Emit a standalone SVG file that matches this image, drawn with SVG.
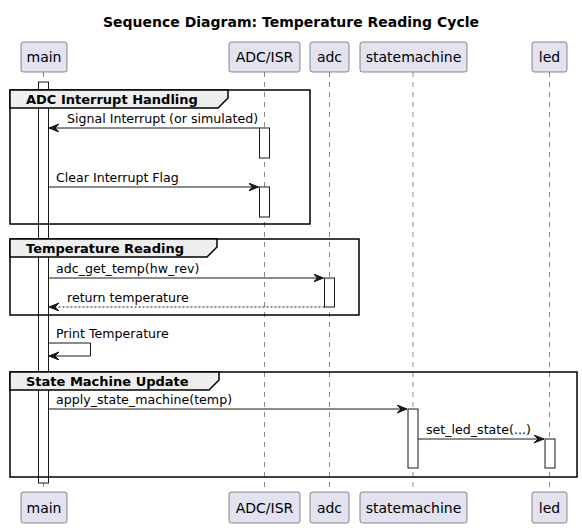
<svg xmlns="http://www.w3.org/2000/svg" width="582" height="528" viewBox="0 0 582 528">
<style>
text{font-family:"DejaVu Sans","Noto Sans",sans-serif;fill:#000}
.title{font-size:14px;font-weight:bold}
.pname{font-size:14px}
.msg{font-size:12.6px}
.gname{font-size:13px;font-weight:bold}
.pbox{fill:#E2E2F0;stroke:#181818;stroke-width:0.5}
.life{stroke:#181818;stroke-width:0.5;stroke-dasharray:5,5;fill:none}
.act{fill:#FFFFFF;stroke:#181818;stroke-width:1}
.frame{fill:none;stroke:#000;stroke-width:1.5}
.tab{fill:#EEEEEE;stroke:#000;stroke-width:1.5}
.arr{stroke:#181818;stroke-width:1;fill:none;marker-end:url(#ah)}
.ret{stroke:#181818;stroke-width:1;fill:none;stroke-dasharray:2,2;marker-end:url(#ah)}
</style>
<defs>
<marker id="ah" markerUnits="userSpaceOnUse" markerWidth="11" markerHeight="9" refX="10" refY="4" orient="auto" viewBox="0 0 11 9">
<path d="M0,0 L10,4 L0,8 L4,4 Z" fill="#181818" stroke="#181818" stroke-width="1"/>
</marker>
</defs>
<rect width="582" height="528" fill="#FFFFFF"/>
<text class="title" x="291" y="27" text-anchor="middle">Sequence Diagram: Temperature Reading Cycle</text>

<g id="lifelines">
<line class="life" x1="43.5" y1="72" x2="43.5" y2="492"/>
<line class="life" x1="264.5" y1="72" x2="264.5" y2="492"/>
<line class="life" x1="329.5" y1="72" x2="329.5" y2="492"/>
<line class="life" x1="413" y1="72" x2="413" y2="492"/>
<line class="life" x1="549.5" y1="72" x2="549.5" y2="492"/>
</g>

<g id="activations">
<rect class="act" x="38.5" y="82" width="10" height="401"/>
<rect class="act" x="259.5" y="128" width="10" height="30"/>
<rect class="act" x="259.5" y="187" width="10" height="30"/>
<rect class="act" x="324.5" y="278" width="10" height="29"/>
<rect class="act" x="408" y="409" width="10" height="59"/>
<rect class="act" x="545" y="439" width="10" height="29"/>
</g>

<g id="group-adc-interrupt">
<rect class="frame" x="10" y="90" width="300" height="134"/>
<path class="tab" d="M10,90 L228,90 L228,98 L218,108 L10,108 Z"/>
<text class="gname" x="26" y="104">ADC Interrupt Handling</text>
</g>
<g id="group-temp-reading">
<rect class="frame" x="10" y="239" width="349" height="76"/>
<path class="tab" d="M10,239 L217,239 L217,247 L207,257 L10,257 Z"/>
<text class="gname" x="26" y="253">Temperature Reading</text>
</g>
<g id="group-state-machine">
<rect class="frame" x="10" y="372" width="567" height="105"/>
<path class="tab" d="M10,372 L219,372 L219,380 L209,390 L10,390 Z"/>
<text class="gname" x="26" y="386">State Machine Update</text>
</g>

<g id="connectors">
<line class="arr" x1="259.5" y1="128" x2="49" y2="128"/>
<text class="msg" x="67" y="123">Signal Interrupt (or simulated)</text>
<line class="arr" x1="48.5" y1="187" x2="258.5" y2="187"/>
<text class="msg" x="56" y="182">Clear Interrupt Flag</text>
<line class="arr" x1="48.5" y1="278" x2="323.5" y2="278"/>
<text class="msg" x="56" y="273">adc_get_temp(hw_rev)</text>
<line class="ret" x1="324.5" y1="307" x2="49" y2="307"/>
<text class="msg" x="67" y="302">return temperature</text>
<polyline class="arr" points="48.5,343 90.5,343 90.5,356 49,356"/>
<text class="msg" x="56" y="338">Print Temperature</text>
<line class="arr" x1="48.5" y1="409" x2="407" y2="409"/>
<text class="msg" x="56" y="404">apply_state_machine(temp)</text>
<line class="arr" x1="418" y1="439" x2="544" y2="439"/>
<text class="msg" x="426" y="434">set_led_state(...)</text>
</g>

<g id="p-main">
<rect class="pbox" x="21" y="42" width="46" height="30" rx="2.5"/>
<text class="pname" x="44" y="62" text-anchor="middle">main</text>
<rect class="pbox" x="21" y="492" width="46" height="31" rx="2.5"/>
<text class="pname" x="44" y="513" text-anchor="middle">main</text>
</g>
<g id="p-adcisr">
<rect class="pbox" x="229" y="42" width="71" height="30" rx="2.5"/>
<text class="pname" x="264.5" y="62" text-anchor="middle">ADC/ISR</text>
<rect class="pbox" x="229" y="492" width="71" height="31" rx="2.5"/>
<text class="pname" x="264.5" y="513" text-anchor="middle">ADC/ISR</text>
</g>
<g id="p-adc">
<rect class="pbox" x="310" y="42" width="39" height="30" rx="2.5"/>
<text class="pname" x="329.5" y="62" text-anchor="middle">adc</text>
<rect class="pbox" x="310" y="492" width="39" height="31" rx="2.5"/>
<text class="pname" x="329.5" y="513" text-anchor="middle">adc</text>
</g>
<g id="p-statemachine">
<rect class="pbox" x="360" y="42" width="107" height="30" rx="2.5"/>
<text class="pname" x="413.5" y="62" text-anchor="middle">statemachine</text>
<rect class="pbox" x="360" y="492" width="107" height="31" rx="2.5"/>
<text class="pname" x="413.5" y="513" text-anchor="middle">statemachine</text>
</g>
<g id="p-led">
<rect class="pbox" x="532" y="42" width="35" height="30" rx="2.5"/>
<text class="pname" x="549.5" y="62" text-anchor="middle">led</text>
<rect class="pbox" x="532" y="492" width="35" height="31" rx="2.5"/>
<text class="pname" x="549.5" y="513" text-anchor="middle">led</text>
</g>
</svg>
